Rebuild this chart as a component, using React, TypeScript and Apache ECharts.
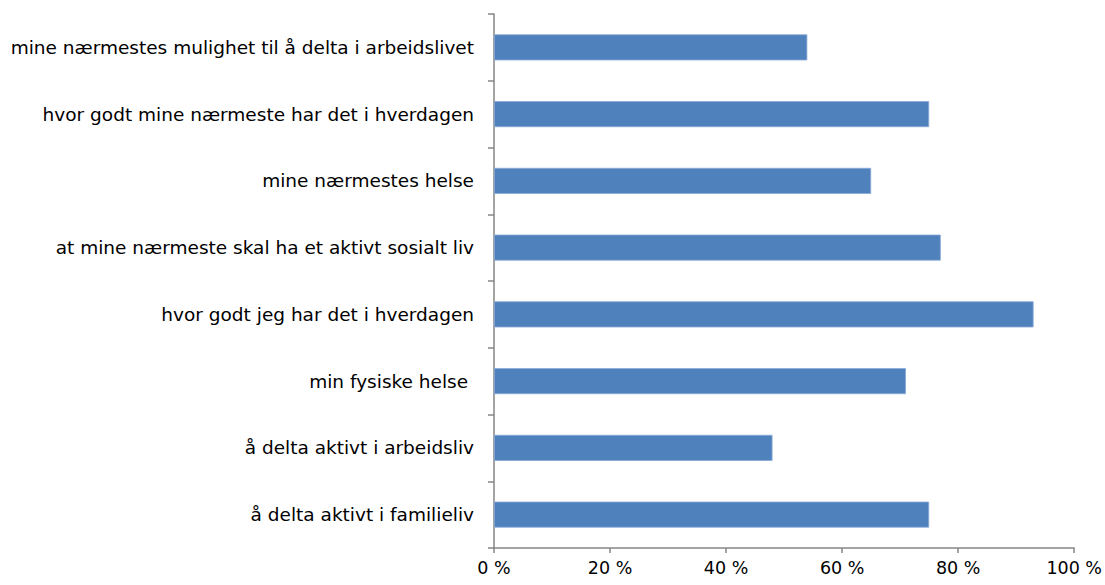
import React, { useEffect, useRef } from "react";
import * as echarts from "echarts";

const categories = [
  "mine nærmestes mulighet til å delta i arbeidslivet",
  "hvor godt mine nærmeste har det i hverdagen",
  "mine nærmestes helse",
  "at mine nærmeste skal ha et aktivt sosialt liv",
  "hvor godt jeg har det i hverdagen",
  "min fysiske helse ",
  "å delta aktivt i arbeidsliv",
  "å delta aktivt i familieliv",
];
const values = [54, 75, 65, 77, 93, 71, 48, 75];

const FONT = "DejaVu Sans, Liberation Sans, Arial, sans-serif";

export default function App() {
  const ref = useRef<HTMLDivElement>(null);
  useEffect(() => {
    if (!ref.current) return;
    const chart = echarts.init(ref.current, undefined, { renderer: "svg" });
    chart.setOption({
      animation: false,
      backgroundColor: "#ffffff",
      grid: { left: 494, right: 30, top: 14, bottom: 37, containLabel: false },
      xAxis: {
        type: "value",
        min: 0,
        max: 100,
        interval: 20,
        axisLine: { show: true, lineStyle: { color: "#868686", width: 1.5 } },
        axisTick: { show: true, length: 5, lineStyle: { color: "#868686", width: 1.5 } },
        splitLine: { show: false },
        axisLabel: {
          formatter: "{value} %",
          color: "#000",
          fontFamily: FONT,
          fontSize: 17.5,
          margin: 11,
        },
      },
      yAxis: {
        type: "category",
        data: categories,
        inverse: true,
        axisLine: { show: true, lineStyle: { color: "#868686", width: 1.5 } },
        axisTick: { show: true, length: 6, lineStyle: { color: "#868686", width: 1.5 } },
        axisLabel: {
          color: "#000",
          fontFamily: FONT,
          fontSize: 18.5,
          margin: 20,
        },
      },
      series: [
        {
          type: "bar",
          data: values,
          barWidth: "39%",
          itemStyle: { color: "#4F81BD", borderColor: "#8AAAD6", borderWidth: 0.8 },
        },
      ],
    });
    return () => chart.dispose();
  }, []);
  return (
    <div
      ref={ref}
      style={{ position: "absolute", left: 0, top: 0, width: 1105, height: 585 }}
    />
  );
}
